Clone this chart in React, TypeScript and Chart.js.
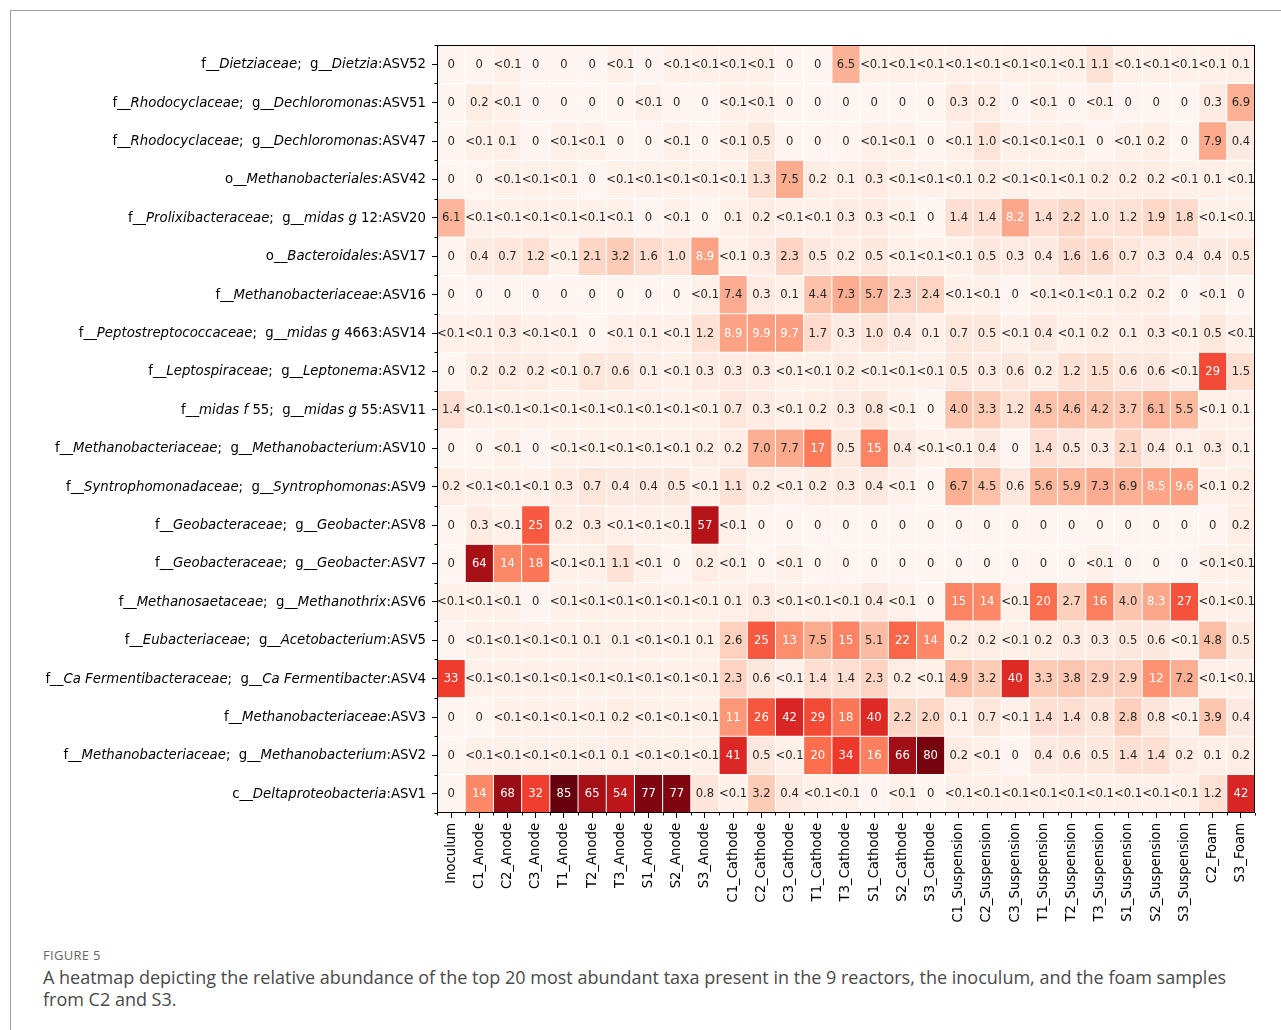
import React, { useEffect, useRef } from "react";
import { Chart, registerables } from "chart.js";

Chart.register(...registerables);

// "<0.1" cells are stored as L and printed as "<0.1"
const L = 0.05;

const samples = [
  "Inoculum",
  "C1_Anode", "C2_Anode", "C3_Anode", "T1_Anode", "T2_Anode", "T3_Anode", "S1_Anode", "S2_Anode", "S3_Anode",
  "C1_Cathode", "C2_Cathode", "C3_Cathode", "T1_Cathode", "T3_Cathode", "S1_Cathode", "S2_Cathode", "S3_Cathode",
  "C1_Suspension", "C2_Suspension", "C3_Suspension", "T1_Suspension", "T2_Suspension", "T3_Suspension",
  "S1_Suspension", "S2_Suspension", "S3_Suspension",
  "C2_Foam", "S3_Foam",
];

// top to bottom; *...* = italic
const taxa = [
  "f__*Dietziaceae*;  g__*Dietzia*:ASV52",
  "f__*Rhodocyclaceae*;  g__*Dechloromonas*:ASV51",
  "f__*Rhodocyclaceae*;  g__*Dechloromonas*:ASV47",
  "o__*Methanobacteriales*:ASV42",
  "f__*Prolixibacteraceae*;  g__*midas g* 12:ASV20",
  "o__*Bacteroidales*:ASV17",
  "f__*Methanobacteriaceae*:ASV16",
  "f__*Peptostreptococcaceae*;  g__*midas g* 4663:ASV14",
  "f__*Leptospiraceae*;  g__*Leptonema*:ASV12",
  "f__*midas f* 55;  g__*midas g* 55:ASV11",
  "f__*Methanobacteriaceae*;  g__*Methanobacterium*:ASV10",
  "f__*Syntrophomonadaceae*;  g__*Syntrophomonas*:ASV9",
  "f__*Geobacteraceae*;  g__*Geobacter*:ASV8",
  "f__*Geobacteraceae*;  g__*Geobacter*:ASV7",
  "f__*Methanosaetaceae*;  g__*Methanothrix*:ASV6",
  "f__*Eubacteriaceae*;  g__*Acetobacterium*:ASV5",
  "f__*Ca Fermentibacteraceae*;  g__*Ca Fermentibacter*:ASV4",
  "f__*Methanobacteriaceae*:ASV3",
  "f__*Methanobacteriaceae*;  g__*Methanobacterium*:ASV2",
  "c__*Deltaproteobacteria*:ASV1",
];

const asv52 = [0, 0, L, 0, 0, 0, L, 0, L, L, L, L, 0, 0, 6.5, L, L, L, L, L, L, L, L, 1.1, L, L, L, L, 0.1];
const asv51 = [0, 0.2, L, 0, 0, 0, 0, L, 0, 0, L, L, 0, 0, 0, 0, 0, 0, 0.3, 0.2, 0, L, 0, L, 0, 0, 0, 0.3, 6.9];
const asv47 = [0, L, 0.1, 0, L, L, 0, 0, L, 0, L, 0.5, 0, 0, 0, L, L, 0, L, 1.0, L, L, L, 0, L, 0.2, 0, 7.9, 0.4];
const asv42 = [0, 0, L, L, L, 0, L, L, L, L, L, 1.3, 7.5, 0.2, 0.1, 0.3, L, L, L, 0.2, L, L, L, 0.2, 0.2, 0.2, L, 0.1, L];
const asv20 = [6.1, L, L, L, L, L, L, 0, L, 0, 0.1, 0.2, L, L, 0.3, 0.3, L, 0, 1.4, 1.4, 8.2, 1.4, 2.2, 1.0, 1.2, 1.9, 1.8, L, L];
const asv17 = [0, 0.4, 0.7, 1.2, L, 2.1, 3.2, 1.6, 1.0, 8.9, L, 0.3, 2.3, 0.5, 0.2, 0.5, L, L, L, 0.5, 0.3, 0.4, 1.6, 1.6, 0.7, 0.3, 0.4, 0.4, 0.5];
const asv16 = [0, 0, 0, 0, 0, 0, 0, 0, 0, L, 7.4, 0.3, 0.1, 4.4, 7.3, 5.7, 2.3, 2.4, L, L, 0, L, L, L, 0.2, 0.2, 0, L, 0];
const asv14 = [L, L, 0.3, L, L, 0, L, 0.1, L, 1.2, 8.9, 9.9, 9.7, 1.7, 0.3, 1.0, 0.4, 0.1, 0.7, 0.5, L, 0.4, L, 0.2, 0.1, 0.3, L, 0.5, L];
const asv12 = [0, 0.2, 0.2, 0.2, L, 0.7, 0.6, 0.1, L, 0.3, 0.3, 0.3, L, L, 0.2, L, L, L, 0.5, 0.3, 0.6, 0.2, 1.2, 1.5, 0.6, 0.6, L, 29, 1.5];
const asv11 = [1.4, L, L, L, L, L, L, L, L, L, 0.7, 0.3, L, 0.2, 0.3, 0.8, L, 0, 4.0, 3.3, 1.2, 4.5, 4.6, 4.2, 3.7, 6.1, 5.5, L, 0.1];
const asv10 = [0, 0, L, 0, L, L, L, L, L, 0.2, 0.2, 7.0, 7.7, 17, 0.5, 15, 0.4, L, L, 0.4, 0, 1.4, 0.5, 0.3, 2.1, 0.4, 0.1, 0.3, 0.1];
const asv9 = [0.2, L, L, L, 0.3, 0.7, 0.4, 0.4, 0.5, L, 1.1, 0.2, L, 0.2, 0.3, 0.4, L, 0, 6.7, 4.5, 0.6, 5.6, 5.9, 7.3, 6.9, 8.5, 9.6, L, 0.2];
const asv8 = [0, 0.3, L, 25, 0.2, 0.3, L, L, L, 57, L, 0, 0, 0, 0, 0, 0, 0, 0, 0, 0, 0, 0, 0, 0, 0, 0, 0, 0.2];
const asv7 = [0, 64, 14, 18, L, L, 1.1, L, 0, 0.2, L, 0, L, 0, 0, 0, 0, 0, 0, 0, 0, 0, 0, L, 0, 0, 0, L, L];
const asv6 = [L, L, L, 0, L, L, L, L, L, L, 0.1, 0.3, L, L, L, 0.4, L, 0, 15, 14, L, 20, 2.7, 16, 4.0, 8.3, 27, L, L];
const asv5 = [0, L, L, L, L, 0.1, 0.1, L, L, 0.1, 2.6, 25, 13, 7.5, 15, 5.1, 22, 14, 0.2, 0.2, L, 0.2, 0.3, 0.3, 0.5, 0.6, L, 4.8, 0.5];
const asv4 = [33, L, L, L, L, L, L, L, L, L, 2.3, 0.6, L, 1.4, 1.4, 2.3, 0.2, L, 4.9, 3.2, 40, 3.3, 3.8, 2.9, 2.9, 12, 7.2, L, L];
const asv3 = [0, 0, L, L, L, L, 0.2, L, L, L, 11, 26, 42, 29, 18, 40, 2.2, 2.0, 0.1, 0.7, L, 1.4, 1.4, 0.8, 2.8, 0.8, L, 3.9, 0.4];
const asv2 = [0, L, L, L, L, L, 0.1, L, L, L, 41, 0.5, L, 20, 34, 16, 66, 80, 0.2, L, 0, 0.4, 0.6, 0.5, 1.4, 1.4, 0.2, 0.1, 0.2];
const asv1 = [0, 14, 68, 32, 85, 65, 54, 77, 77, 0.8, L, 3.2, 0.4, L, L, 0, L, 0, L, L, L, L, L, L, L, L, L, 1.2, 42];

const rows = [asv52, asv51, asv47, asv42, asv20, asv17, asv16, asv14, asv12, asv11, asv10, asv9, asv8, asv7, asv6, asv5, asv4, asv3, asv2, asv1];

const VMAX = 85;
const REDS = ["#fff5f0", "#fee0d2", "#fcbba1", "#fc9272", "#fb6a4a", "#ef3b2c", "#cb181d", "#a50f15", "#67000d"];

function hexToRgb(h: string): number[] {
  return [parseInt(h.slice(1, 3), 16), parseInt(h.slice(3, 5), 16), parseInt(h.slice(5, 7), 16)];
}

function reds(v: number): string {
  const t = Math.min(1, Math.sqrt(Math.max(0, v) / VMAX));
  const p = t * 8;
  const i = Math.min(7, Math.floor(p));
  const f = p - i;
  const a = hexToRgb(REDS[i]);
  const b = hexToRgb(REDS[i + 1]);
  const c = a.map((x, k) => Math.round(x + (b[k] - x) * f));
  return `rgb(${c[0]},${c[1]},${c[2]})`;
}

function fmt(v: number): string {
  if (v === 0) return "0";
  if (v < 0.1) return "<0.1";
  if (v < 10) return v.toFixed(1);
  return String(Math.round(v));
}

const FONT = "'DejaVu Sans', sans-serif";
const N = taxa.length;
const LABEL_SIZE = 13.3;

const heatPlugin = {
  id: "heatExtras",
  afterDatasetsDraw(chart: any) {
    const { ctx, scales } = chart;
    const x = scales.x;
    const y = scales.y;
    ctx.save();
    ctx.font = `11.6px ${FONT}`;
    ctx.textAlign = "center";
    ctx.textBaseline = "middle";
    rows.forEach((row, r) => {
      const k = N - 1 - r;
      const py = y.getPixelForValue(k + 0.5);
      row.forEach((v, j) => {
        const px = x.getPixelForValue(j);
        ctx.fillStyle = v >= 8 ? "#ffffff" : "#262626";
        ctx.fillText(fmt(v), px, py + 0.5);
      });
    });
    ctx.restore();
  },
  afterDraw(chart: any) {
    const { ctx, chartArea, scales } = chart;
    const x = scales.x;
    const y = scales.y;
    ctx.save();
    // frame
    ctx.strokeStyle = "#000";
    ctx.lineWidth = 1;
    ctx.strokeRect(
      Math.round(chartArea.left) + 0.5,
      Math.round(chartArea.top) + 0.5,
      Math.round(chartArea.right - chartArea.left) - 1,
      Math.round(chartArea.bottom - chartArea.top) - 1
    );
    // minor ticks at cell boundaries
    ctx.beginPath();
    for (let j = 0; j <= samples.length; j++) {
      const px = Math.round(x.getPixelForValue(j - 0.5)) + 0.5;
      ctx.moveTo(px, chartArea.bottom);
      ctx.lineTo(px, chartArea.bottom + 2.5);
    }
    for (let k = 0; k <= N; k++) {
      const py = Math.round(y.getPixelForValue(k)) + 0.5;
      ctx.moveTo(chartArea.left, py);
      ctx.lineTo(chartArea.left - 2.5, py);
    }
    ctx.stroke();
    // y labels with italic parts
    ctx.fillStyle = "#000";
    ctx.textBaseline = "middle";
    ctx.textAlign = "left";
    const right = chartArea.left - 11;
    taxa.forEach((lab, r) => {
      const k = N - 1 - r;
      const py = y.getPixelForValue(k + 0.5);
      const parts = lab.split("*");
      let total = 0;
      const widths = parts.map((p, i) => {
        ctx.font = `${i % 2 === 1 ? "italic " : ""}${LABEL_SIZE}px ${FONT}`;
        const w = ctx.measureText(p).width;
        total += w;
        return w;
      });
      let cx = right - total;
      parts.forEach((p, i) => {
        ctx.font = `${i % 2 === 1 ? "italic " : ""}${LABEL_SIZE}px ${FONT}`;
        ctx.fillText(p, cx, py + 0.5);
        cx += widths[i];
      });
    });
    ctx.restore();
  },
};

export default function App() {
  const ref = useRef<HTMLCanvasElement | null>(null);

  useEffect(() => {
    if (!ref.current) return;
    const datasets = rows.map((row, r) => {
      const k = N - 1 - r;
      return {
        label: taxa[r],
        data: samples.map(() => [k, k + 1]),
        backgroundColor: row.map(reds),
        borderColor: "rgba(255,255,255,0.95)",
        borderWidth: 0.5,
        borderSkipped: false,
        grouped: false,
        barPercentage: 1,
        categoryPercentage: 1,
        inflateAmount: 0,
      };
    });
    const chart = new Chart(ref.current, {
      type: "bar",
      data: { labels: samples, datasets: datasets as any },
      options: {
        responsive: false,
        animation: false,
        events: [],
        layout: { padding: { top: 45, right: 26, left: 0, bottom: 0 } },
        plugins: { legend: { display: false }, tooltip: { enabled: false } },
        scales: {
          x: {
            type: "category",
            offset: true,
            grid: { offset: false, drawOnChartArea: false, drawTicks: true, tickLength: 5, color: "#000", lineWidth: 1 },
            border: { display: false },
            ticks: {
              autoSkip: false,
              maxRotation: 90,
              minRotation: 90,
              padding: 5,
              color: "#000",
              font: { family: FONT, size: 13.2 },
            },
            afterFit: (s: any) => {
              s.height = 127;
            },
          },
          y: {
            type: "linear",
            min: 0,
            max: N,
            afterBuildTicks: (s: any) => {
              s.ticks = taxa.map((_, i) => ({ value: i + 0.5 }));
            },
            grid: { drawOnChartArea: false, drawTicks: true, tickLength: 5, color: "#000", lineWidth: 1 },
            border: { display: false },
            ticks: { display: false },
            afterFit: (s: any) => {
              s.width = 437;
            },
          },
        },
      } as any,
      plugins: [heatPlugin],
    });
    return () => chart.destroy();
  }, []);

  return (
    <div style={{ position: "absolute", left: 0, top: 0, width: 1281, height: 1030, overflow: "hidden", background: "#fff" }}>
      <div
        style={{
          position: "absolute",
          left: 10,
          top: 10,
          width: 1300,
          height: 1100,
          borderTop: "1px solid #a0a0a0",
          borderLeft: "1px solid #a0a0a0",
        }}
      />
      <canvas ref={ref} width={1281} height={940} style={{ position: "absolute", left: 0, top: 0, width: 1281, height: 940 }} />
      <div
        style={{
          position: "absolute",
          left: 43,
          top: 946,
          font: "13px 'Open Sans', sans-serif",
          lineHeight: "18px",
          color: "#666",
          letterSpacing: 0.3,
        }}
      >
        FIGURE 5
      </div>
      <div
        style={{
          position: "absolute",
          left: 43,
          top: 966,
          width: 1230,
          font: "18px 'Open Sans', sans-serif",
          lineHeight: "22px",
          color: "#4a4a4a",
          whiteSpace: "nowrap",
        }}
      >
        A heatmap depicting the relative abundance of the top 20 most abundant taxa present in the 9 reactors, the inoculum, and the foam samples
        <br />
        from C2 and S3.
      </div>
    </div>
  );
}
